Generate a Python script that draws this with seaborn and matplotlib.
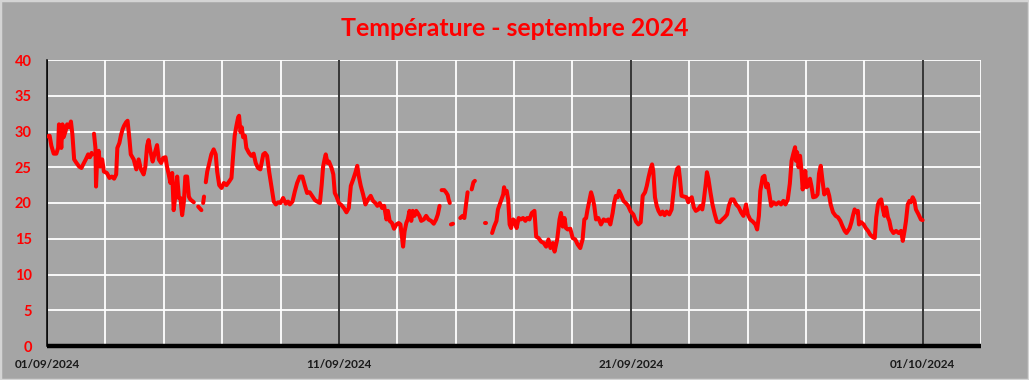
"""Température - septembre 2024 : relevé de la station."""

import matplotlib.pyplot as plt
import numpy as np
import pandas as pd
import seaborn as sns

title = "Température - septembre 2024"
start_date = "2024-09-01"
end_date = "2024-10-03"
tick_dates = ["2024-09-01", "2024-09-11", "2024-09-21", "2024-10-01"]
y_ticks = [0, 5, 10, 15, 20, 25, 30, 35, 40]

# days since 01/09 00:00 ; None in temperature = missing data (gap in the curve)
day_offset = [
    0.00, 0.09, 0.15, 0.23, 0.32, 0.38, 0.41, 0.46, 0.49, 0.53, 0.57, 0.64, 0.69, 0.76,
    0.82, 0.87, 0.93, 1.01, 1.10, 1.18, 1.24, 1.33, 1.41, 1.47, 1.53, 1.56, 1.58,
    1.61, 1.66, 1.68, 1.72, 1.77, 1.82, 1.89, 1.95, 2.05, 2.14, 2.22, 2.30, 2.37, 2.41,
    2.48, 2.53, 2.59, 2.64, 2.71, 2.76, 2.79, 2.83, 2.87, 2.97, 3.06, 3.14, 3.22, 3.31,
    3.37, 3.43, 3.48, 3.54, 3.62, 3.68, 3.77, 3.83, 3.91, 3.98, 4.06, 4.11, 4.17, 4.23,
    4.29, 4.34, 4.40, 4.46, 4.52, 4.57, 4.63, 4.69, 4.74, 4.80, 4.86, 4.91, 5.03, 5.10,
    5.18, 5.29, 5.32,
    5.35, 5.38, 5.41,
    5.44, 5.49, 5.55, 5.63, 5.71, 5.78, 5.83, 5.90, 5.98, 6.06, 6.15, 6.24, 6.32, 6.38,
    6.43, 6.49, 6.55, 6.58, 6.63, 6.67, 6.72, 6.78, 6.83, 6.92, 7.00, 7.08, 7.15, 7.23,
    7.31, 7.41, 7.47, 7.54, 7.61, 7.69, 7.77, 7.84, 7.92, 8.00, 8.09, 8.18, 8.26, 8.32,
    8.41, 8.49, 8.57, 8.66, 8.75, 8.83, 8.91, 9.00, 9.10, 9.18, 9.26, 9.35, 9.41, 9.46,
    9.52, 9.55, 9.61, 9.66, 9.75, 9.81, 9.86, 9.92, 10.00, 10.09, 10.17, 10.26, 10.34,
    10.41, 10.49, 10.57, 10.63, 10.68, 10.75, 10.83, 10.91, 11.00, 11.09, 11.17, 11.25,
    11.32, 11.40, 11.48, 11.55, 11.63, 11.68, 11.74, 11.82, 11.89, 11.97, 12.05, 12.11,
    12.16, 12.20, 12.25, 12.31, 12.36, 12.42, 12.48, 12.53, 12.59, 12.65, 12.70, 12.76,
    12.82, 12.91, 12.99, 13.07, 13.16, 13.25, 13.33, 13.39, 13.45, 13.48,
    13.52, 13.61, 13.67, 13.73, 13.76, 13.80, 13.82,
    13.84, 13.91, 14.00,
    14.16, 14.24, 14.30, 14.35, 14.41, 14.48,
    14.55, 14.61, 14.66, 14.80,
    15.00, 15.04, 15.10,
    15.25, 15.32, 15.40, 15.45, 15.51, 15.57, 15.63, 15.66, 15.70, 15.75, 15.80, 15.85,
    15.90, 15.97, 16.02, 16.09, 16.16, 16.23, 16.31, 16.39, 16.45, 16.53, 16.61, 16.70,
    16.76, 16.84, 16.93, 17.02, 17.10, 17.18, 17.25, 17.33, 17.39, 17.48, 17.56, 17.61,
    17.67, 17.73, 17.78, 17.84, 17.93, 18.01, 18.10, 18.18, 18.27, 18.35, 18.41, 18.47,
    18.52, 18.58, 18.64, 18.69, 18.75, 18.81, 18.89, 18.98, 19.07, 19.15, 19.23, 19.30,
    19.38, 19.43, 19.49, 19.55, 19.60, 19.66, 19.75, 19.83, 19.91, 20.00, 20.09, 20.18,
    20.26, 20.34, 20.41, 20.49, 20.55, 20.61, 20.68, 20.73, 20.77, 20.83, 20.89, 20.95,
    21.02, 21.09, 21.16, 21.23, 21.32, 21.40, 21.45, 21.52, 21.59, 21.64, 21.68, 21.74,
    21.82, 21.91, 21.97, 22.02, 22.09, 22.16, 22.23, 22.31, 22.39, 22.45, 22.50, 22.57,
    22.61, 22.66, 22.73, 22.80, 22.88, 22.95, 23.05, 23.14, 23.22, 23.30, 23.36, 23.44,
    23.52, 23.61, 23.70, 23.78, 23.86, 23.95, 24.01, 24.09, 24.18, 24.27, 24.33, 24.39,
    24.44, 24.52, 24.58, 24.64, 24.69, 24.75, 24.81, 24.89, 24.98, 25.07, 25.15, 25.23,
    25.30, 25.38, 25.45, 25.51, 25.57, 25.63, 25.66, 25.70, 25.75, 25.80, 25.84, 25.89,
    25.93, 25.98, 26.02, 26.08, 26.14, 26.19, 26.25, 26.34, 26.40, 26.45, 26.51, 26.57,
    26.63, 26.68, 26.74, 26.80, 26.85, 26.93, 27.02, 27.10, 27.18, 27.25, 27.33, 27.39,
    27.44, 27.50, 27.56, 27.61, 27.67, 27.73, 27.78, 27.82, 27.90, 27.98, 28.05, 28.13,
    28.20, 28.30, 28.36, 28.41, 28.47, 28.52, 28.58, 28.64, 28.69, 28.75, 28.81, 28.86,
    28.92, 29.00, 29.09, 29.18, 29.26, 29.32, 29.38, 29.43, 29.49, 29.55, 29.60, 29.66,
    29.72, 29.77, 29.86, 29.94, 30.00,
]
temperature = [
    29.3, 29.4, 28.0, 26.9, 26.9, 27.7, 31.0, 29.4, 27.7, 31.0, 29.2, 30.1, 31.0, 30.6,
    31.4, 29.6, 26.1, 25.6, 25.1, 24.9, 25.4, 26.1, 26.8, 26.4, 27.0, 26.8, None,
    29.7, 27.7, 22.3, 26.3, 27.3, 25.1, 26.1, 24.4, 24.2, 23.5, 23.7, 23.4, 24.0, 27.7,
    28.4, 29.4, 30.3, 30.8, 31.3, 31.5, 30.3, 28.7, 26.8, 26.1, 24.7, 26.1, 24.7, 24.0,
    25.1, 28.0, 28.8, 27.3, 25.8, 26.8, 28.1, 26.1, 25.6, 26.3, 26.4, 25.1, 24.0, 22.8,
    24.2, 19.0, 21.1, 23.7, 20.7, 20.7, 18.3, 20.2, 23.7, 23.7, 20.9, 20.5, 20.1, None,
    19.5, 19.0, None,
    20.0, 20.9, None,
    22.9, 24.4, 25.4, 26.8, 27.5, 26.8, 24.4, 22.5, 22.1, 22.8, 22.5, 23.0, 23.5, 26.8,
    29.4, 30.8, 32.0, 32.2, 29.9, 30.6, 29.2, 29.4, 27.7, 27.0, 26.6, 26.9, 25.6, 24.9,
    24.7, 26.8, 27.0, 26.6, 24.4, 22.3, 20.2, 19.8, 20.1, 20.0, 20.7, 19.9, 20.2, 19.8,
    20.2, 21.6, 22.8, 23.7, 23.7, 22.5, 21.4, 21.5, 20.9, 20.4, 20.2, 20.0, 22.5, 25.1,
    26.3, 26.8, 25.6, 25.8, 24.9, 24.0, 21.4, 20.9, 20.0, 19.7, 19.3, 18.7, 19.3,
    22.4, 23.3, 24.3, 25.2, 23.8, 22.4, 21.2, 19.8, 20.5, 21.0, 20.3, 20.0,
    19.6, 20.0, 19.3, 19.6, 17.7, 18.9, 17.5, 17.2, 16.4, 17.0, 17.2, 17.0,
    15.3, 13.9, 16.0, 17.2, 17.7, 18.9, 17.5, 18.9, 18.2, 18.9, 18.6, 18.2,
    17.5, 17.7, 18.2, 17.7, 17.5, 17.1, 17.7, 18.4, 19.6, None,
    21.8, 21.8, 21.5, 21.1, 20.5, 20.0, None,
    17.0, 17.1, None,
    17.9, 18.2, 17.9, 19.6, 21.5, None,
    21.9, 22.9, 23.1, None,
    17.2, 17.2, None,
    15.8, 16.7, 17.5, 19.1, 19.8, 20.5, 21.2, 22.2, 21.5, 21.7, 20.5, 17.0,
    16.5, 17.7, 17.5, 16.5, 17.9, 17.7, 17.9, 17.5, 17.9, 17.7, 18.6, 18.9,
    15.3, 15.1, 14.6, 14.4, 13.9, 14.9, 13.7, 14.4, 13.2, 14.9, 17.7, 18.6,
    16.7, 17.9, 16.5, 16.3, 16.4, 15.1, 14.9, 14.2, 13.7, 14.9, 17.7, 17.9,
    19.1, 20.3, 21.5, 20.8, 19.6, 17.7, 17.9, 17.0, 17.7, 17.5, 17.7, 17.0,
    18.6, 20.0, 21.0, 20.8, 21.7, 21.2, 20.3, 20.0, 19.6, 18.8, 18.4, 17.4,
    17.0, 17.3, 21.0, 21.5, 22.4, 23.6, 24.8, 25.4, 24.5, 20.8, 19.6, 18.9,
    18.4, 18.8, 18.3, 18.8, 18.4, 19.1, 21.0, 23.6, 24.8, 25.0, 23.6, 21.0,
    20.9, 20.8, 20.1, 20.5, 20.8, 19.4, 18.9, 19.1, 19.6, 19.1, 20.3, 22.7,
    24.3, 23.4, 21.5, 19.8, 18.4, 17.4, 17.3, 17.7, 18.0, 18.4, 19.6, 20.5,
    20.5, 19.8, 19.4, 18.7, 18.2, 19.8, 18.4, 17.7, 17.4, 17.0, 16.3, 18.2,
    21.7, 23.6, 23.8, 22.2, 22.7, 21.2, 19.6, 20.1, 19.8, 20.1, 19.8, 20.3,
    19.8, 20.5, 22.7, 25.9, 26.9, 27.8, 25.9, 27.1, 25.0, 26.6, 25.0, 21.9,
    23.1, 24.5, 22.2, 22.4, 23.4, 22.4, 20.8, 20.9, 21.2, 24.1, 25.2, 23.1,
    21.2, 21.5, 21.9, 21.0, 19.8, 18.7, 18.2, 18.0, 17.5, 16.8, 16.1, 15.8,
    16.1, 16.5, 17.3, 18.2, 19.1, 18.7, 18.9, 17.0, 17.3, 17.0, 16.5, 16.1,
    15.6, 15.2, 15.1, 18.0, 19.8, 20.3, 20.5, 19.1, 18.2, 19.4, 18.0, 17.5,
    16.3, 15.8, 16.1, 15.8, 16.1, 14.7, 16.1, 17.5, 19.8, 20.3, 20.1, 20.8,
    20.3, 19.1, 18.4, 17.7, 17.6,
]

BG = "#a5a5a5"

df = pd.DataFrame({"day": day_offset, "temp": np.array(temperature, dtype=float)})
df["segment"] = df["temp"].isna().cumsum()
df = df.dropna()
df["time"] = pd.Timestamp(start_date) + pd.to_timedelta(df["day"], unit="D")

sns.set_theme(style="white", rc={"axes.facecolor": BG, "figure.facecolor": BG})
plt.rcParams["font.family"] = ["Lato", "DejaVu Sans"]

fig = plt.figure(figsize=(10.29, 3.8), dpi=100)
ax = fig.add_axes([47 / 1029, 34 / 380, 934 / 1029, 286 / 380])

# white grid: every 5 degrees, every 2 days ; black line every 10 days
for v in y_ticks[1:]:
    ax.axhline(v, color="white", lw=1.3, zorder=1)
for d in pd.date_range(start_date, end_date, freq="2D"):
    ax.axvline(d, color="white", lw=1.3, zorder=1)
for d in pd.to_datetime(tick_dates):
    ax.axvline(d, color="black", lw=1.1, zorder=1.5)

sns.lineplot(data=df, x="time", y="temp", units="segment", estimator=None,
             color="#ff0000", lw=2.9, ax=ax, zorder=3)

ax.set_xlim(pd.Timestamp(start_date), pd.Timestamp(end_date))
ax.set_ylim(0, 40)
ax.set_yticks(y_ticks)
ax.set_yticklabels([str(v) for v in y_ticks], color="#ff0000", fontsize=10.5, fontweight="bold")
ax.set_xticks(pd.to_datetime(tick_dates))
ax.set_xticklabels([pd.Timestamp(d).strftime("%d/%m/%Y") for d in tick_dates],
                   color="#1a1a1a", fontsize=8.5, fontweight="bold")
ax.tick_params(axis="both", length=0)
ax.tick_params(axis="y", pad=11)
ax.tick_params(axis="x", pad=9)
ax.set_xlabel("")
ax.set_ylabel("")

for side in ["top", "right"]:
    ax.spines[side].set_visible(False)
ax.spines["left"].set_color("black")
ax.spines["left"].set_linewidth(1.1)
ax.spines["bottom"].set_color("black")
ax.spines["bottom"].set_linewidth(3.2)
ax.spines["bottom"].set_capstyle("butt")
ax.spines["bottom"].set_zorder(4)

fig.text(0.5, 1 - 28 / 380, title, ha="center", va="center", color="#ff0000",
         fontsize=17.9, fontweight="bold")

# light frame around the chart
fig.patches.append(plt.Rectangle((0, 0), 1, 1, transform=fig.transFigure, fill=False,
                                 edgecolor="#d4d4d4", lw=2.5))

fig.savefig("out.png", dpi=100, facecolor=BG)
